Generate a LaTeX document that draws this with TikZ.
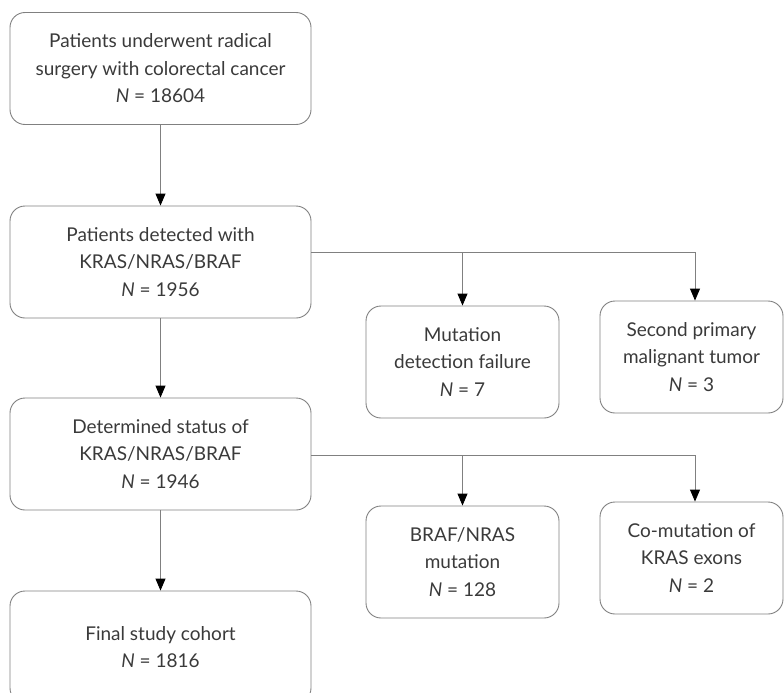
\documentclass[tikz,border=0pt]{standalone}
\usepackage{fontspec}
\setmainfont{Lato}
\usetikzlibrary{arrows.meta}
\definecolor{txt}{HTML}{3A3A3A}
\definecolor{ln}{HTML}{808080}
\begin{document}
\begin{tikzpicture}[x=1pt,y=-1pt,
  box/.style={draw=ln, line width=0.9pt, rounded corners=15pt, minimum width=301pt,
    minimum height=112pt, align=center, text=txt, inner sep=0pt,
    font=\fontsize{19}{27.5}\selectfont},
  sidebox/.style={box, minimum width=193pt},
  sidebox2/.style={box, minimum width=183pt},
  conn/.style={draw=ln, line width=0.9pt},
  arr/.style={conn, -{Triangle[width=10pt,length=12pt,color=black]}}]
\useasboundingbox (0,0) rectangle (784,693);
\clip (0,0) rectangle (784,693);

\node[box] (b1) at (160.5,68.5) {Patients underwent radical\\surgery with colorectal cancer\\\textit{N} = 18604};
\node[box] (b2) at (160.5,262) {Patients detected with\\KRAS/NRAS/BRAF\\\textit{N} = 1956};
\node[box] (b3) at (160.5,454) {Determined status of\\KRAS/NRAS/BRAF\\\textit{N} = 1946};
\node[box] (b4) at (160.5,647) {Final study cohort\\\textit{N} = 1816};

\node[sidebox] (m1) at (462.5,362) {Mutation\\detection failure\\\textit{N} = 7};
\node[sidebox2] (m2) at (691.5,357) {Second primary\\malignant tumor\\\textit{N} = 3};
\node[sidebox] (e1) at (462.5,562) {BRAF/NRAS\\mutation\\\textit{N} = 128};
\node[sidebox2] (e2) at (691.5,558) {Co-mutation of\\KRAS exons\\\textit{N} = 2};

\draw[arr] (b1) -- (b2);
\draw[arr] (b2) -- (b3);
\draw[arr] (b3) -- (b4);

\coordinate (s1) at (b2.east |- 0,252);
\coordinate (j1) at (462.5,252);
\coordinate (k1) at (695,252);
\draw[conn] (s1) -- (k1);
\draw[arr] (j1) -- (m1.north);
\draw[arr] (k1) -- (k1 |- m2.north);

\coordinate (s2) at (b3.east |- 0,455);
\coordinate (j2) at (462.5,455);
\coordinate (k2) at (695,455);
\draw[conn] (s2) -- (k2);
\draw[arr] (j2) -- (e1.north);
\draw[arr] (k2) -- (k2 |- e2.north);
\end{tikzpicture}
\end{document}
